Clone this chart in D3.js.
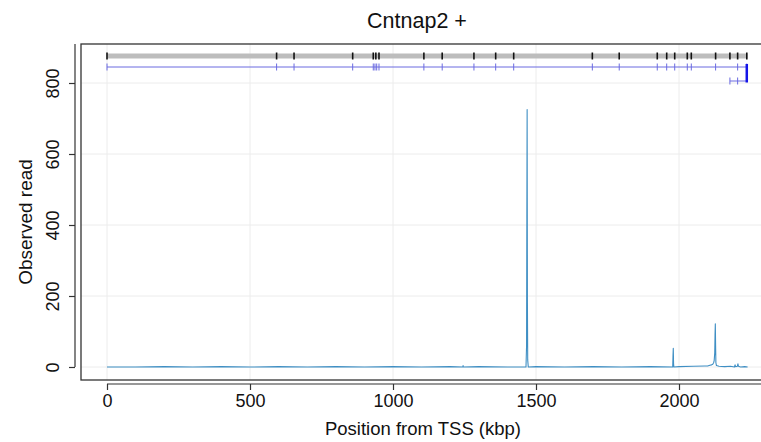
<!DOCTYPE html>
<html>
<head>
<meta charset="utf-8">
<script src="https://cdn.jsdelivr.net/npm/d3@7"></script>
<style>
  html, body { margin: 0; padding: 0; background: #fff; }
  svg { display: block; font-family: "Liberation Sans", Arial, Helvetica, sans-serif; }
</style>
</head>
<body>
<svg id="chart" width="761" height="442"></svg>
<script>
// Coverage trace along Cntnap2 (+ strand), kbp from TSS vs observed reads
const positionKbp = [0, 100, 200, 300, 400, 500, 600, 700, 800, 900, 1000, 1100, 1200, 1244, 1245, 1246, 1300, 1400,
  1465, 1467, 1468, 1469, 1470, 1471, 1473, 1500, 1600, 1700, 1800, 1900, 1978, 1979, 1980, 1981, 1982, 2000,
  2050, 2090, 2100, 2108, 2114, 2118, 2121, 2123, 2125, 2126, 2127, 2128, 2129, 2131, 2140, 2160, 2180, 2194,
  2196, 2198, 2204, 2206, 2208, 2215, 2230, 2240];
const observedReads = [0, 0, 1, 0, 1, 0, 1, 0, 1, 0, 1, 0, 1, 0, 4, 0, 1, 0,
  0, 60, 420, 725, 180, 20, 0, 1, 0, 1, 0, 1, 0, 30, 53, 10, 0, 1,
  2, 3, 3, 5, 6, 8, 12, 18, 40, 90, 122, 60, 12, 4, 2, 1, 2, 0,
  6, 1, 2, 9, 2, 0, 1, 0];

// Exon starts (kbp) of the two transcripts
const geneExons = [0, 593, 654, 859, 931, 940, 951, 1108, 1172, 1283, 1359, 1422, 1697, 1791, 1924, 1957, 1985,
  2029, 2043, 2128, 2178, 2205, 2237];
const transcript1 = [0, 593, 654, 859, 931, 937, 943, 951, 1108, 1172, 1283, 1359, 1422, 1697, 1791, 1924, 1957,
  1985, 2029, 2043, 2128, 2205, 2237];
const transcript2 = [2178, 2205, 2237];
const geneSpan = [0, 2240];

const xTicks = [0, 500, 1000, 1500, 2000];
const yTicks = [0, 200, 400, 600, 800];
const titleText = "Cntnap2 +";
const xLabel = "Position from TSS (kbp)";
const yLabel = "Observed read";

const svg = d3.select("#chart");

const x = d3.scaleLinear().domain([0, 2000]).range([107, 679]);
const y = d3.scaleLinear().domain([0, 800]).range([367, 83]);

const box = { left: 81, top: 44, right: 790, bottom: 380 };

// grid
const grid = svg.append("g").attr("stroke", "#ececec").attr("stroke-width", 1);
grid.selectAll("line.v").data(xTicks).join("line")
  .attr("x1", d => x(d)).attr("x2", d => x(d))
  .attr("y1", box.top).attr("y2", box.bottom);
grid.selectAll("line.h").data(yTicks).join("line")
  .attr("x1", box.left).attr("x2", box.right)
  .attr("y1", d => y(d)).attr("y2", d => y(d));

// coverage
const line = d3.line().x((d, i) => x(positionKbp[i])).y(d => y(d));
svg.append("path")
  .datum(observedReads)
  .attr("fill", "none")
  .attr("stroke", "#3f8fc4")
  .attr("stroke-width", 1.1)
  .attr("stroke-linejoin", "round")
  .attr("d", line);

// gene track: gray body with black exon marks
const gy = 56;
svg.append("line")
  .attr("x1", x(geneSpan[0])).attr("x2", x(geneSpan[1]))
  .attr("y1", gy).attr("y2", gy)
  .attr("stroke", "#bdbdbd").attr("stroke-width", 5);
svg.selectAll("line.exon").data(geneExons).join("line")
  .attr("x1", d => x(d)).attr("x2", d => x(d))
  .attr("y1", gy - 3.5).attr("y2", gy + 3.5)
  .attr("stroke", "#111").attr("stroke-width", 1.6);

// transcript 1
const t1y = 67;
svg.append("line")
  .attr("x1", x(geneSpan[0])).attr("x2", x(transcript1[transcript1.length - 1]))
  .attr("y1", t1y).attr("y2", t1y)
  .attr("stroke", "#6a6ae0").attr("stroke-width", 1);
svg.selectAll("line.t1").data(transcript1).join("line")
  .attr("x1", d => x(d)).attr("x2", d => x(d))
  .attr("y1", t1y - 3.5).attr("y2", t1y + 3.5)
  .attr("stroke", "#6a6ae0").attr("stroke-width", 1);

// transcript 2
const t2y = 81;
svg.append("line")
  .attr("x1", x(transcript2[0])).attr("x2", x(transcript2[transcript2.length - 1]))
  .attr("y1", t2y).attr("y2", t2y)
  .attr("stroke", "#6a6ae0").attr("stroke-width", 1);
svg.selectAll("line.t2").data(transcript2.slice(0, -1)).join("line")
  .attr("x1", d => x(d)).attr("x2", d => x(d))
  .attr("y1", t2y - 3.5).attr("y2", t2y + 3.5)
  .attr("stroke", "#6a6ae0").attr("stroke-width", 1);
svg.append("line")
  .attr("x1", x(transcript2[transcript2.length - 1])).attr("x2", x(transcript2[transcript2.length - 1]))
  .attr("y1", t1y - 3).attr("y2", t2y + 1.5)
  .attr("stroke", "#1515e8").attr("stroke-width", 2.5);

// plot frame
svg.append("rect")
  .attr("x", box.left).attr("y", box.top)
  .attr("width", box.right - box.left).attr("height", box.bottom - box.top)
  .attr("fill", "none").attr("stroke", "#333").attr("stroke-width", 1.3);

// x axis
const xAxis = svg.append("g").attr("transform", "translate(0,384)")
  .call(d3.axisBottom(x).tickValues(xTicks).tickFormat(d3.format("d"))
    .tickSize(6).tickPadding(4).tickSizeOuter(0));
xAxis.select(".domain").attr("d", `M${x(0)},0H${box.right}`).attr("stroke", "#333").attr("stroke-width", 1.2);
xAxis.selectAll(".tick line").attr("stroke", "#333").attr("stroke-width", 1.2);
xAxis.selectAll(".tick text").attr("font-size", 18).attr("fill", "#111")
  .attr("font-family", "Liberation Sans, Arial, sans-serif");

// y axis
const yAxis = svg.append("g").attr("transform", "translate(75,0)")
  .call(d3.axisLeft(y).tickValues(yTicks).tickFormat(d3.format("d")).tickSize(6).tickSizeOuter(0));
yAxis.select(".domain").attr("d", `M0,${box.top}V${y(0)}`).attr("stroke", "#333").attr("stroke-width", 1.2);
yAxis.selectAll(".tick line").attr("stroke", "#333").attr("stroke-width", 1.2);
yAxis.selectAll(".tick text")
  .attr("font-size", 18).attr("fill", "#111")
  .attr("font-family", "Liberation Sans, Arial, sans-serif")
  .attr("x", null).attr("dy", null)
  .attr("text-anchor", "middle")
  .attr("transform", "translate(-22,0) rotate(-90)")
  .attr("dy", "0.35em");

// titles
svg.append("text").attr("x", 417).attr("y", 28).attr("text-anchor", "middle")
  .attr("font-size", 21.5).attr("fill", "#111").text(titleText);
svg.append("text").attr("x", 423).attr("y", 435).attr("text-anchor", "middle")
  .attr("font-size", 18.5).attr("fill", "#111").text(xLabel);
svg.append("text").attr("transform", "translate(32,222) rotate(-90)").attr("text-anchor", "middle")
  .attr("font-size", 19).attr("fill", "#111").text(yLabel);
</script>
</body>
</html>
